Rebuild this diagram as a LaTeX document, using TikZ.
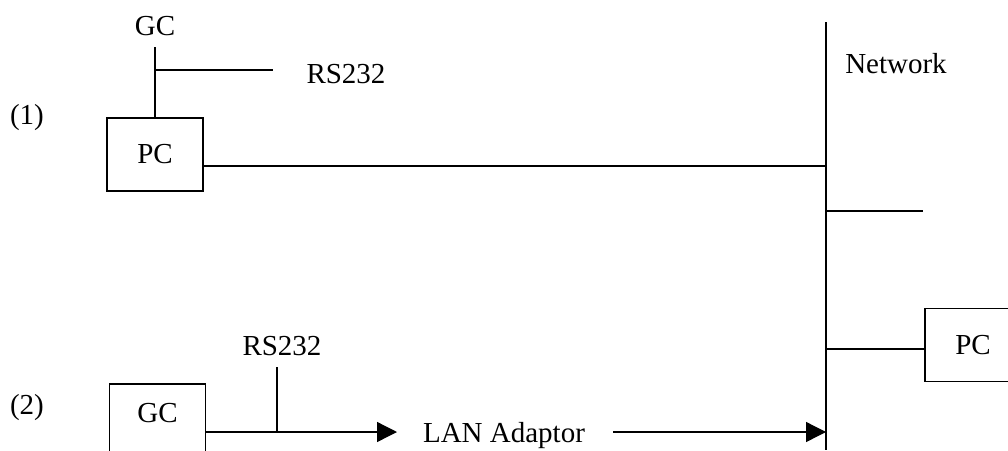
\documentclass[tikz,border=0pt]{standalone}
\usepackage{fontspec}
\setmainfont{Liberation Serif}
\usepackage{tikz}
\usetikzlibrary{positioning,arrows.meta}

\begin{document}
\begin{tikzpicture}[font=\fontsize{29}{34}\selectfont,x=1pt,y=-1pt,line width=1.3pt,
  >={Triangle[length=20pt,width=20pt]}]
% ---- styles ----
\tikzstyle{unit}=[draw,inner sep=0pt,minimum width=96pt,minimum height=73pt]
\tikzstyle{lbl}=[inner sep=0pt,anchor=base]

\useasboundingbox (0,0) rectangle (1008,450);

% ---- case labels ----
\node[lbl] (case1) at (27,124) {(1)};
\node[lbl] (case2) at (27,414) {(2)};

% ---- network bus ----
\coordinate (busTop) at (826,22);
\coordinate (busBot) at (826,450);
\draw (busTop) -- (busBot);
\node[lbl] (net) at (896,73) {Network};

% ---- (1) PC with GC on RS232 ----
\node[lbl] (gc1) at (155,35) {GC};
\node[unit] (pc1) at (155,154.5) {PC};
\coordinate (gcTop) at (155,47);
\draw (gcTop) -- (pc1.north);
\coordinate (rsJoin) at (155,70);
\coordinate (rsEnd) at (273,70);
\draw (rsJoin) -- (rsEnd);
\node[lbl] (rs1) at (346,83) {RS232};
\coordinate (tap1) at (826,166);
\draw (pc1.east |- tap1) -- (tap1);

% ---- free tap and remote PC ----
\coordinate (tap2) at (826,211);
\coordinate (stub) at (923,211);
\draw (tap2) -- (stub);
\node[unit] (pc2) at (973,345) {PC};
\coordinate (tap3) at (826,349);
\draw (tap3) -- (pc2.west |- tap3);

% ---- (2) GC through LAN adaptor ----
\node[unit,text depth=16pt] (gc2) at (157.5,420.5) {GC};
\coordinate (rsTap) at (277,432);
\coordinate (rsTop) at (277,367);
\draw (rsTop) -- (rsTap);
\node[lbl] (rs2) at (282,355) {RS232};
\coordinate (lanIn) at (397,432);
\draw[->] (gc2.east |- rsTap) -- (lanIn);
\node[lbl] (lan) at (504,442) {LAN Adaptor};
\coordinate (lanOut) at (613,432);
\draw[->] (lanOut) -- (busBot |- lanOut);

\end{tikzpicture}
\end{document}
